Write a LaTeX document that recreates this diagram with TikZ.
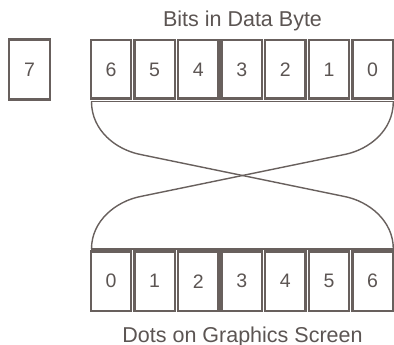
\documentclass[tikz,border=0pt]{standalone}
\usepackage{fontspec}
\setmainfont{Liberation Sans}
\definecolor{ink}{RGB}{104,96,93}
\definecolor{txt}{RGB}{92,85,83}
\begin{document}
\begin{tikzpicture}[x=1pt,y=-1pt,
  cell/.style={draw=ink,line width=2.5pt,minimum width=40.4pt,minimum height=58.6pt,inner sep=0pt,text=txt,font=\fontsize{19.5}{19.5}\selectfont},
  bar/.style={draw=ink,line width=1.7pt},
  wire/.style={draw=ink,line width=1.4pt},
  lab/.style={text=txt,font=\fontsize{21.5}{21.5}\selectfont,inner sep=0pt,anchor=base}]
\useasboundingbox[fill=white] (0,0) rectangle (394,345);
% title labels
\node[lab] (title) at (242.5,27) {Bits in Data Byte};
\node[lab] (foot) at (242.5,342) {Dots on Graphics Screen};
% lone bit 7
\node[cell,minimum width=40.6pt,minimum height=59.6pt] (b7) at (29.5,69.5) {7};
% top row
\foreach \lbl [count=\i from 0] in {6,5,4,3,2,1,0}{
  \node[cell] (t\lbl) at ({90+43.6*\i+21},69.4) {\lbl};
}
% bottom row
\foreach \lbl [count=\i from 0] in {0,1,2,3,4,5,6}{
  \node[cell,minimum height=59.2pt] (d\lbl) at ({90+43.6*\i+21},281.2) {\lbl};
}
\coordinate (tl) at (90.5,101.6);
\coordinate (tr) at (394,101.6);
\coordinate (bl) at (90.5,248.8);
\coordinate (br) at (394,248.8);
\coordinate (tlend) at (91.5,101.6);
\coordinate (trend) at (393.3,101.6);
\coordinate (blend) at (91.5,248.8);
\coordinate (brend) at (393.3,248.8);
\draw[bar] (tl) -- (tr);
\draw[bar] (bl) -- (br);
% crossing connectors
\draw[wire] (tlend) .. controls +(0,29) and (116,149.5) .. (140,154.4)
  -- (345,196.6) .. controls (369,201.5) and +(0,-28) .. (brend);
\draw[wire] (trend) .. controls +(0,29) and (369,149.5) .. (345,154.4)
  -- (140,196.6) .. controls (116,201.5) and +(0,-28) .. (blend);
\end{tikzpicture}
\end{document}
